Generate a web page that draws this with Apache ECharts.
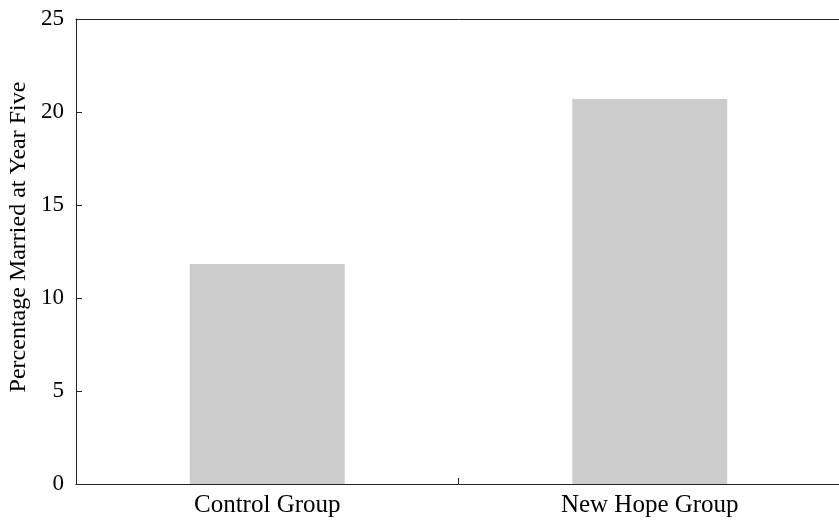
<!DOCTYPE html>
<html>
<head>
<meta charset="utf-8">
<script src="https://cdn.jsdelivr.net/npm/echarts@6/dist/echarts.min.js"></script>
<style>
html,body{margin:0;padding:0;background:#fff;overflow:hidden;width:839px;height:520px;}
#chart{width:850px;height:520px;}
</style>
</head>
<body>
<div id="chart"></div>
<script>
var categories = ['Control Group', 'New Hope Group'];
var values = [11.83, 20.7];
var yTicks = [0, 5, 10, 15, 20, 25];
var yTitle = 'Percentage Married at Year Five';

var FONT = '"Liberation Serif", "DejaVu Serif", serif';
var chart = echarts.init(document.getElementById('chart'), null, {renderer: 'canvas'});
chart.setOption({
  animation: false,
  backgroundColor: '#ffffff',
  grid: {left: 76, right: 9, top: 19, bottom: 36, show: false},
  xAxis: [{
    type: 'category',
    data: categories,
    boundaryGap: true,
    position: 'bottom',
    axisLine: {show: true, lineStyle: {color: '#222', width: 1}},
    axisTick: {show: true, inside: true, length: 6, lineStyle: {color: '#222'}},
    axisLabel: {color: '#000', fontFamily: FONT, fontSize: 25, margin: 9},
    splitLine: {show: false}
  }, {
    type: 'category',
    data: categories,
    position: 'top',
    axisLine: {show: true, lineStyle: {color: '#222', width: 1}},
    axisTick: {show: false},
    axisLabel: {show: false},
    splitLine: {show: false}
  }],
  yAxis: {
    type: 'value',
    min: yTicks[0],
    max: yTicks[yTicks.length - 1],
    interval: 5,
    axisLine: {show: true, lineStyle: {color: '#222', width: 1}},
    axisTick: {show: true, inside: true, length: 6, lineStyle: {color: '#222'}},
    axisLabel: {color: '#000', fontFamily: FONT, fontSize: 23, margin: 12},
    splitLine: {show: false}
  },
  graphic: [{
    type: 'text',
    x: 19,
    y: 237,
    rotation: Math.PI / 2,
    style: {
      text: yTitle,
      fill: '#000',
      font: '24px ' + FONT,
      textAlign: 'center',
      textVerticalAlign: 'middle'
    }
  }],
  series: [{
    type: 'bar',
    xAxisIndex: 0,
    data: values,
    barWidth: '40.5%',
    itemStyle: {color: '#cccccc'}
  }]
});
</script>
</body>
</html>
